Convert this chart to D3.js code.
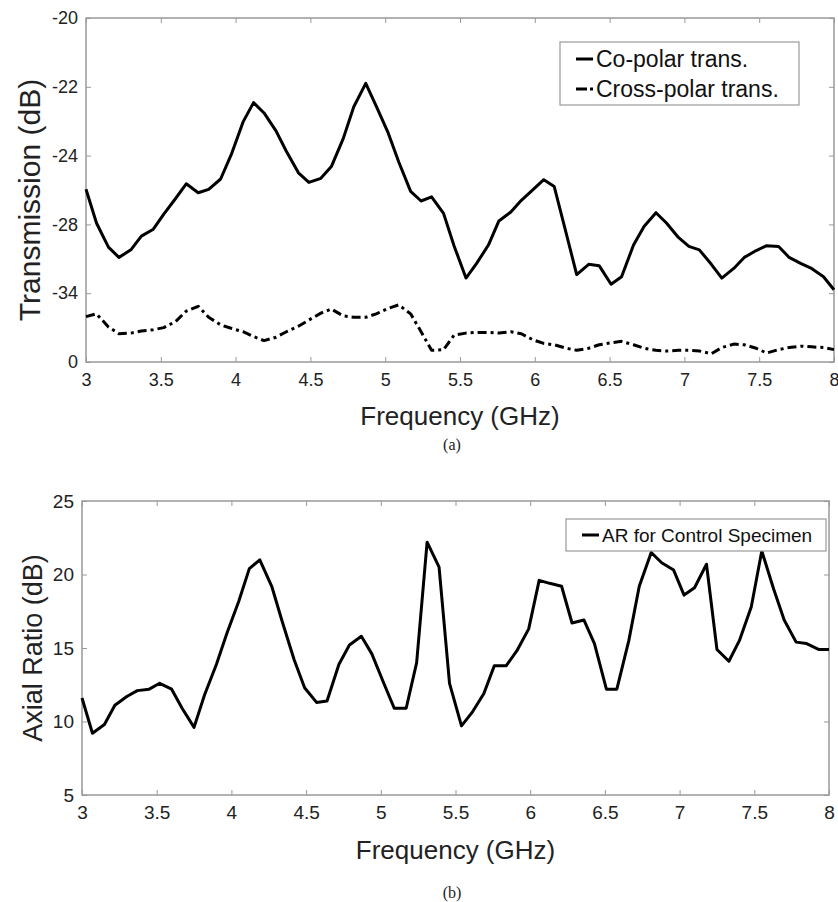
<!DOCTYPE html>
<html lang="en">
<head>
<meta charset="UTF-8">
<title>Transmission and Axial Ratio</title>
<script src="https://cdn.jsdelivr.net/npm/d3@7"></script>
<style>
    body { margin: 0; background: #fff; }
    svg { display: block; font-family: "Liberation Sans", Arial, sans-serif; }
    .axis path, .axis line { stroke: #999; }
    .axis text { fill: #222; }
</style>
</head>
<body>
<div id="chart"></div>
<script>
// frequency grid (GHz), shared by all three curves
const freq = [3.00, 3.07, 3.15, 3.22, 3.30, 3.37, 3.45, 3.52, 3.60, 3.67,
              3.75, 3.82, 3.90, 3.97, 4.05, 4.12, 4.19, 4.27, 4.34, 4.42,
              4.49, 4.57, 4.64, 4.72, 4.79, 4.87, 4.94, 5.02, 5.09, 5.17,
              5.24, 5.31, 5.39, 5.46, 5.54, 5.61, 5.69, 5.76, 5.84, 5.91,
              5.99, 6.06, 6.13, 6.21, 6.28, 6.36, 6.43, 6.51, 6.58, 6.66,
              6.73, 6.81, 6.88, 6.96, 7.03, 7.10, 7.18, 7.25, 7.33, 7.40,
              7.48, 7.55, 7.63, 7.70, 7.78, 7.85, 7.93, 8.00];

// (a) transmission, in units of the (oddly labelled) y tick positions
const yTicksA = ["0", "-34", "-28", "-24", "-22", "-20"];
const coPolar = [2.51, 2.02, 1.67, 1.52, 1.63, 1.83, 1.93, 2.15, 2.38, 2.59,
                 2.46, 2.51, 2.66, 3.01, 3.49, 3.77, 3.62, 3.36, 3.06, 2.75,
                 2.61, 2.67, 2.84, 3.25, 3.71, 4.05, 3.72, 3.33, 2.91, 2.48,
                 2.34, 2.40, 2.16, 1.69, 1.22, 1.43, 1.70, 2.05, 2.18, 2.35,
                 2.51, 2.65, 2.55, 1.87, 1.27, 1.42, 1.40, 1.13, 1.24, 1.70,
                 1.97, 2.17, 2.02, 1.81, 1.68, 1.63, 1.42, 1.22, 1.36, 1.52,
                 1.62, 1.69, 1.68, 1.52, 1.43, 1.36, 1.24, 1.05];
const crossPolar = [0.66, 0.70, 0.51, 0.41, 0.42, 0.45, 0.47, 0.50, 0.59, 0.74,
                    0.81, 0.65, 0.54, 0.49, 0.44, 0.37, 0.31, 0.36, 0.44, 0.52,
                    0.61, 0.71, 0.77, 0.67, 0.65, 0.65, 0.70, 0.78, 0.83, 0.70,
                    0.44, 0.17, 0.18, 0.39, 0.42, 0.43, 0.43, 0.42, 0.44, 0.41,
                    0.32, 0.27, 0.25, 0.20, 0.17, 0.20, 0.25, 0.28, 0.30, 0.25,
                    0.20, 0.17, 0.16, 0.17, 0.17, 0.16, 0.12, 0.21, 0.26, 0.25,
                    0.20, 0.13, 0.18, 0.21, 0.23, 0.22, 0.21, 0.18];

// (b) axial ratio (dB)
const yTicksB = [5, 10, 15, 20, 25];
const axialRatio = [11.6, 9.2, 9.8, 11.1, 11.7, 12.1, 12.2, 12.6, 12.2, 10.9,
                    9.6, 11.8, 13.9, 16.0, 18.2, 20.4, 21.0, 19.2, 16.8, 14.2,
                    12.3, 11.3, 11.4, 13.9, 15.2, 15.8, 14.6, 12.6, 10.9, 10.9,
                    14.0, 22.2, 20.5, 12.6, 9.7, 10.6, 11.9, 13.8, 13.8, 14.8,
                    16.3, 19.6, 19.4, 19.2, 16.7, 16.9, 15.3, 12.2, 12.2, 15.5,
                    19.2, 21.5, 20.8, 20.3, 18.6, 19.1, 20.7, 14.9, 14.1, 15.5,
                    17.8, 21.6, 19.0, 16.9, 15.4, 15.3, 14.9, 14.9];

const xTicks = [3, 3.5, 4, 4.5, 5, 5.5, 6, 6.5, 7, 7.5, 8];

const W = 838, H = 902;
const svg = d3.select("#chart").append("svg").attr("width", W).attr("height", H);

function panel(cfg) {
    const g = svg.append("g");
    const x = d3.scaleLinear().domain([3, 8]).range([cfg.left, cfg.right]);
    const y = d3.scaleLinear().domain(cfg.yDomain).range([cfg.bottom, cfg.top]);

    const fmt = d => d3.format("")(d);

    g.append("g").attr("class", "axis")
        .attr("transform", "translate(0," + cfg.bottom + ")")
        .call(d3.axisBottom(x).tickValues(xTicks).tickFormat(fmt).tickSizeInner(-5).tickSizeOuter(0).tickPadding(cfg.xPad))
        .call(a => a.select(".domain").remove())
        .selectAll("text").attr("font-size", cfg.tickFont);
    g.append("g").attr("class", "axis")
        .attr("transform", "translate(0," + cfg.top + ")")
        .call(d3.axisTop(x).tickValues(xTicks).tickFormat("").tickSizeInner(-5).tickSizeOuter(0))
        .call(a => a.select(".domain").remove());
    g.append("g").attr("class", "axis")
        .attr("transform", "translate(" + cfg.left + ",0)")
        .call(d3.axisLeft(y).tickValues(cfg.yTickValues).tickFormat(cfg.yFormat).tickSizeInner(-5).tickSizeOuter(0).tickPadding(8))
        .call(a => a.select(".domain").remove())
        .selectAll("text").attr("font-size", cfg.tickFont);
    g.append("g").attr("class", "axis")
        .attr("transform", "translate(" + cfg.right + ",0)")
        .call(d3.axisRight(y).tickValues(cfg.yTickValues).tickFormat("").tickSizeInner(-5).tickSizeOuter(0))
        .call(a => a.select(".domain").remove());

    g.append("rect")
        .attr("x", cfg.left).attr("y", cfg.top)
        .attr("width", cfg.right - cfg.left).attr("height", cfg.bottom - cfg.top)
        .attr("fill", "none").attr("stroke", "#999").attr("stroke-width", 1.5);

    cfg.series.forEach(s => {
        const line = d3.line().x((d, i) => x(freq[i])).y(d => y(d));
        g.append("path")
            .datum(s.values)
            .attr("d", line)
            .attr("fill", "none")
            .attr("stroke", "#000")
            .attr("stroke-width", 3)
            .attr("stroke-linejoin", "round")
            .attr("stroke-dasharray", s.dash || null);
    });

    // legend
    const lg = g.append("g");
    lg.append("rect")
        .attr("x", cfg.legend.x).attr("y", cfg.legend.y)
        .attr("width", cfg.legend.w).attr("height", cfg.legend.h)
        .attr("fill", "#fff").attr("stroke", "#999").attr("stroke-width", 1.2);
    cfg.series.forEach((s, i) => {
        const cy = cfg.legend.y + cfg.legend.first + i * cfg.legend.step;
        lg.append("line")
            .attr("x1", cfg.legend.x + 16).attr("x2", cfg.legend.x + 33)
            .attr("y1", cy).attr("y2", cy)
            .attr("stroke", "#000").attr("stroke-width", 3)
            .attr("stroke-dasharray", s.dash ? "11,3,3,3" : null);
        lg.append("text")
            .attr("x", cfg.legend.x + 36).attr("y", cy)
            .attr("dy", "0.36em")
            .attr("font-size", cfg.legend.font)
            .attr("fill", "#111")
            .text(s.name);
    });

    // axis titles
    g.append("text")
        .attr("x", (cfg.left + cfg.right) / 2).attr("y", cfg.xTitleY)
        .attr("text-anchor", "middle").attr("font-size", 26).attr("fill", "#222")
        .text("Frequency (GHz)");
    g.append("text")
        .attr("transform", "translate(" + cfg.yTitleX + "," + cfg.yTitleCY + ") rotate(-90)")
        .attr("text-anchor", "middle").attr("font-size", cfg.yTitleFont).attr("fill", "#222")
        .text(cfg.yTitle);
    g.append("text")
        .attr("x", 452).attr("y", cfg.captionY)
        .attr("text-anchor", "middle")
        .attr("font-family", "'Liberation Serif', 'Times New Roman', serif")
        .attr("font-size", 16).attr("fill", "#222")
        .text(cfg.caption);
}

panel({
    left: 86, right: 834, top: 18, bottom: 362,
    yDomain: [0, yTicksA.length - 1],
    yTickValues: d3.range(yTicksA.length),
    yFormat: i => yTicksA[i],
    tickFont: 18, xPad: 11,
    series: [
        { name: "Co-polar trans.", values: coPolar },
        { name: "Cross-polar trans.", values: crossPolar, dash: "9,4,3,4" }
    ],
    legend: { x: 560, y: 42, w: 239, h: 63, first: 17, step: 30, font: 23 },
    xTitleY: 425, yTitleX: 40, yTitleCY: 200, yTitle: "Transmission (dB)", yTitleFont: 30,
    captionY: 450, caption: "(a)"
});

panel({
    left: 82, right: 829, top: 501, bottom: 795,
    yDomain: [5, 25],
    yTickValues: yTicksB,
    yFormat: d => d,
    tickFont: 19, xPad: 11,
    series: [
        { name: "AR for Control Specimen", values: axialRatio }
    ],
    legend: { x: 566, y: 519, w: 260, h: 32, first: 16, step: 0, font: 19 },
    xTitleY: 859, yTitleX: 42, yTitleCY: 648, yTitle: "Axial Ratio (dB)", yTitleFont: 27,
    captionY: 898, caption: "(b)"
});
</script>
</body>
</html>
